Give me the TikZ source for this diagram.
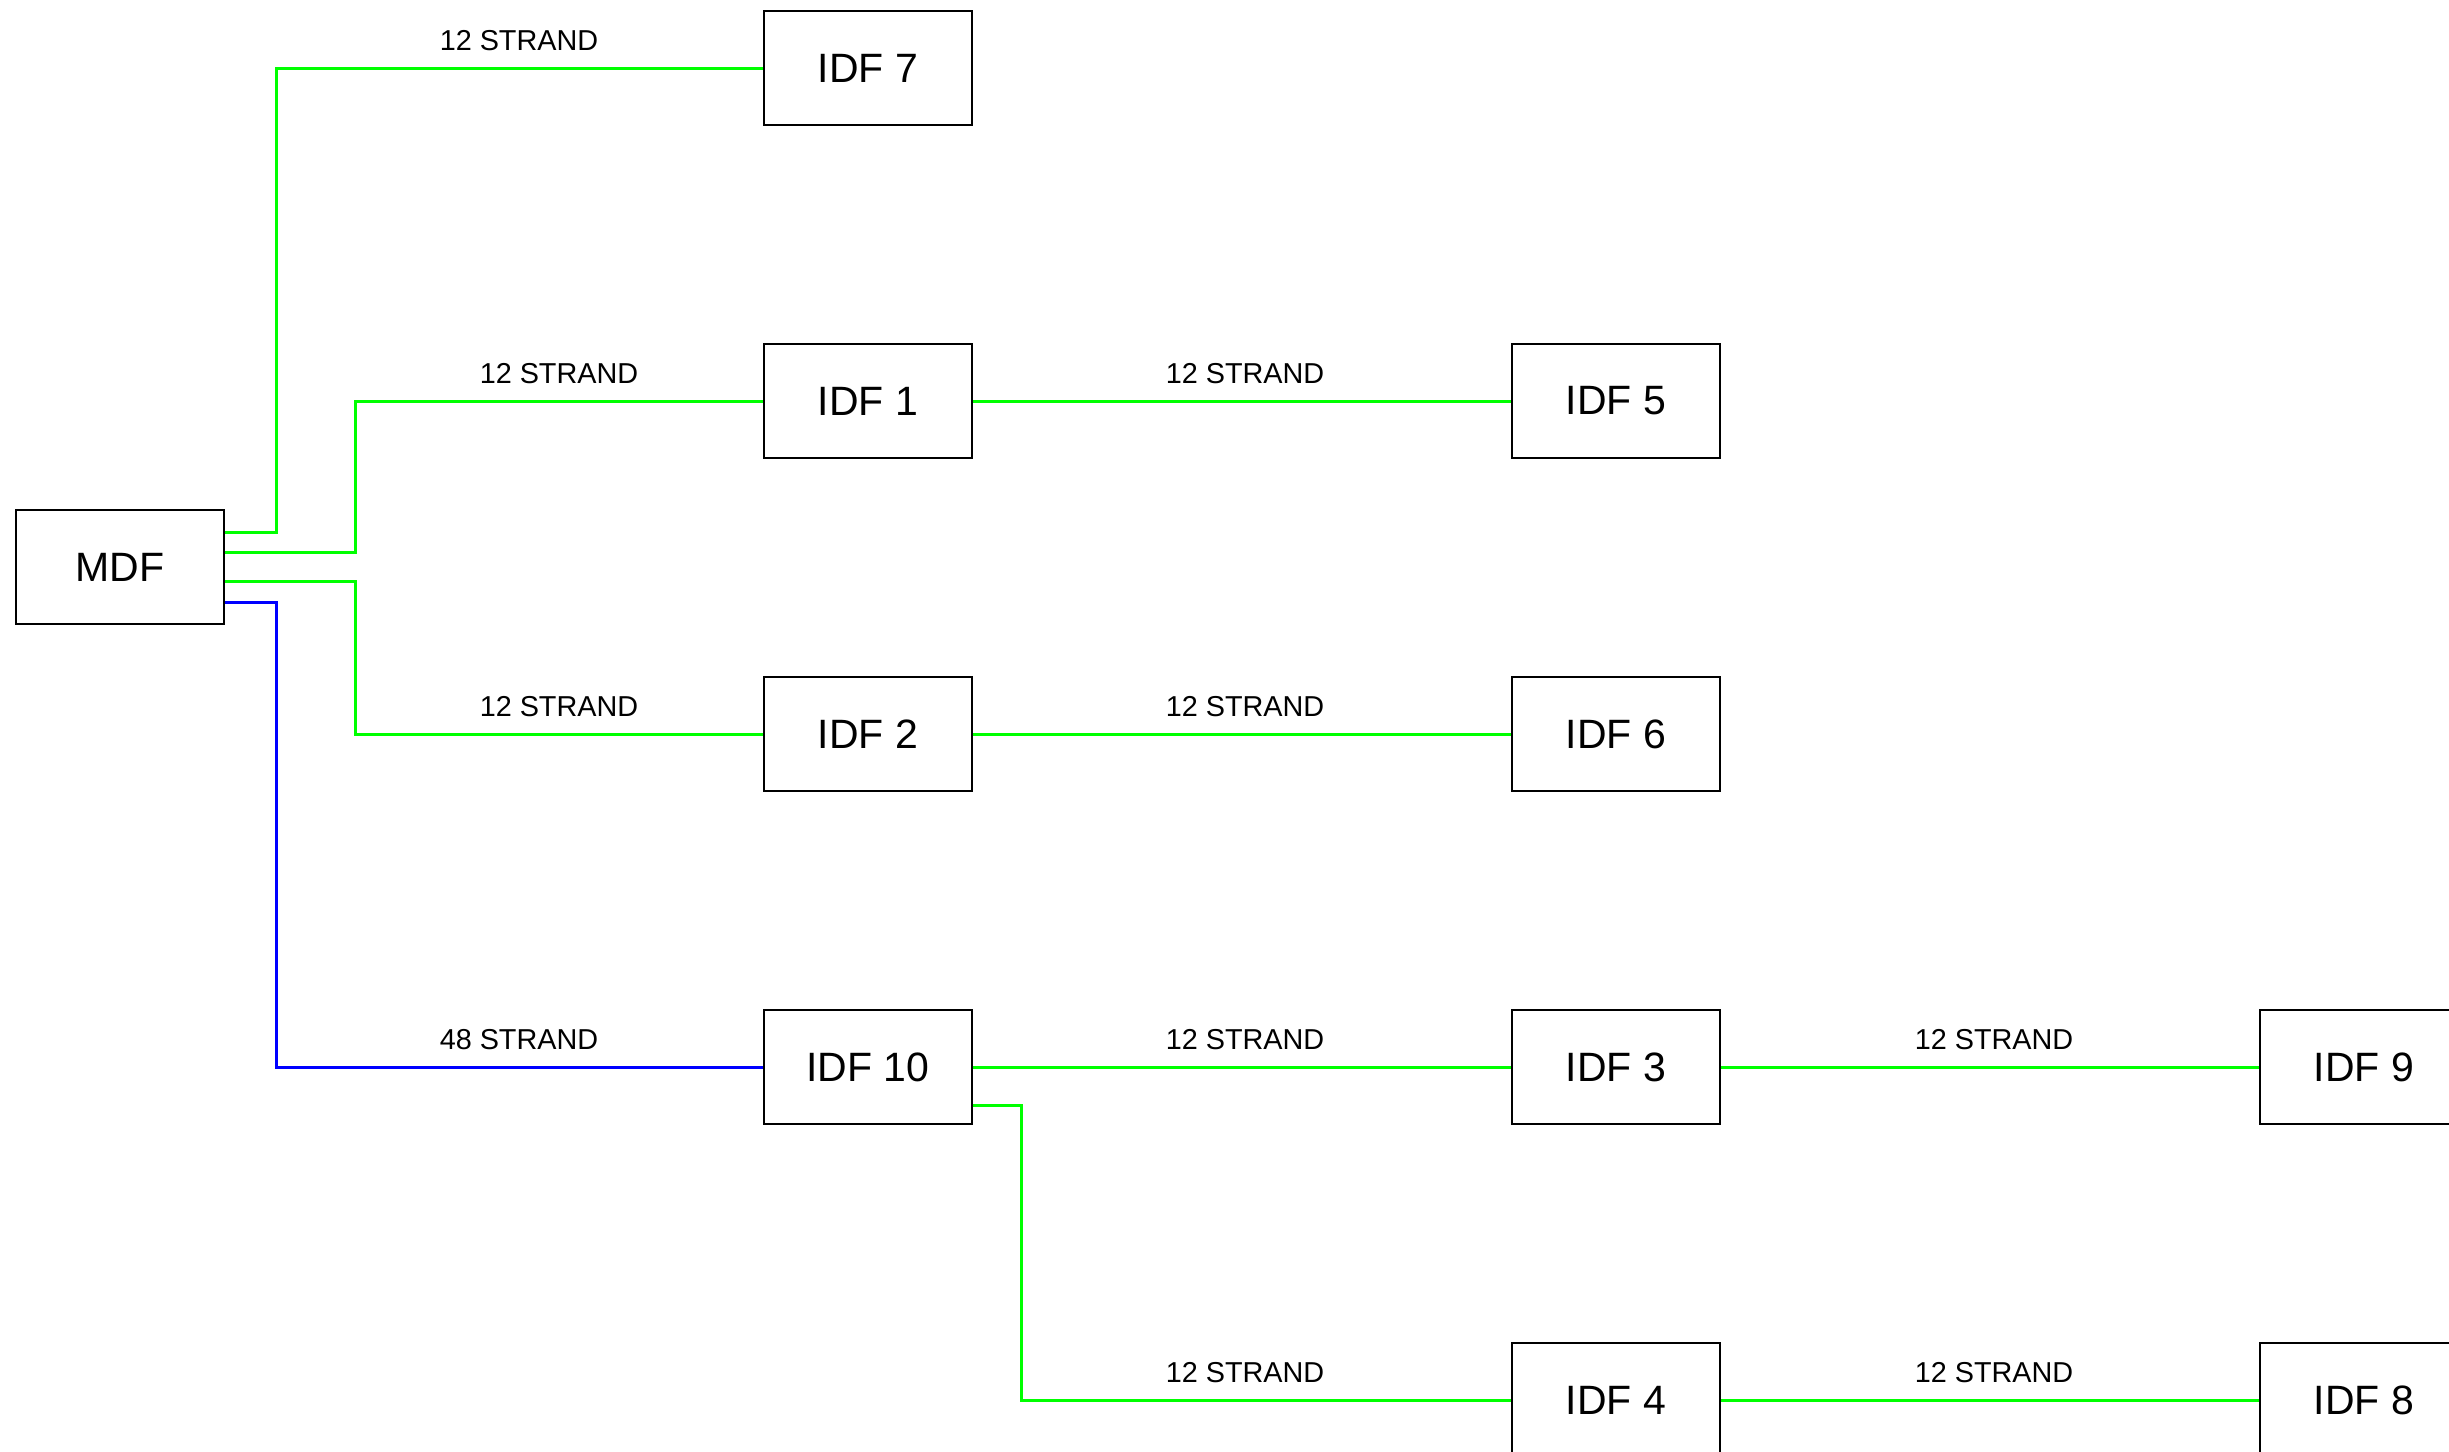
\documentclass[tikz,border=0pt]{standalone}
\usepackage{fontspec}
\setmainfont{Liberation Sans}
\definecolor{lgreen}{RGB}{0,255,0}
\definecolor{lblue}{RGB}{0,0,255}
\begin{document}
\begin{tikzpicture}[x=0.5pt,y=-0.5pt,
  box/.style={draw=black,line width=1.1pt,minimum width=104pt,minimum height=57pt,inner sep=0pt,font=\fontsize{20.5}{24}\selectfont},
  lbl/.style={anchor=base,inner sep=0pt,font=\fontsize{14.4}{17}\selectfont},
  gline/.style={draw=lgreen,line width=1.5pt},
  bline/.style={draw=lblue,line width=1.5pt}]
\useasboundingbox (0,0) rectangle (2449,1452);
\clip (0,0) rectangle (2449,1452);
\fill[white] (0,0) rectangle (2449,1452);
% nodes
\node[box] (mdf) at (120,567) {MDF};
\node[box] (idf7) at (868,68) {IDF 7};
\node[box] (idf1) at (868,401) {IDF 1};
\node[box] (idf5) at (1616,401) {IDF 5};
\node[box] (idf2) at (868,734) {IDF 2};
\node[box] (idf6) at (1616,734) {IDF 6};
\node[box] (idf10) at (868,1067) {IDF 10};
\node[box] (idf3) at (1616,1067) {IDF 3};
\node[box] (idf9) at (2364,1067) {IDF 9};
\node[box] (idf4) at (1616,1400) {IDF 4};
\node[box] (idf8) at (2364,1400) {IDF 8};
% connectors
\draw[gline] ([yshift=17.5pt]mdf.east) -- ++(51,0) |- (idf7.west);
\draw[gline] ([yshift=7.5pt]mdf.east) -- ++(130,0) |- (idf1.west);
\draw[gline] ([yshift=-7pt]mdf.east) -- ++(130,0) |- (idf2.west);
\draw[bline] ([yshift=-17.5pt]mdf.east) -- ++(51,0) |- (idf10.west);
\draw[gline] (idf1.east) -- (idf5.west);
\draw[gline] (idf2.east) -- (idf6.west);
\draw[gline] (idf10.east) -- (idf3.west);
\draw[gline] (idf3.east) -- (idf9.west);
\draw[gline] ([yshift=-19pt]idf10.east) -- ++(48,0) |- (idf4.west);
\draw[gline] (idf4.east) -- (idf8.west);
% labels
\node[lbl] (l7) at (519,50) {12 STRAND};
\node[lbl] (l1) at (559,383) {12 STRAND};
\node[lbl] (l2) at (559,716) {12 STRAND};
\node[lbl] (l10) at (519,1049) {48 STRAND};
\node[lbl] (l5) at (1245,383) {12 STRAND};
\node[lbl] (l6) at (1245,716) {12 STRAND};
\node[lbl] (l3) at (1245,1049) {12 STRAND};
\node[lbl] (l4) at (1245,1382) {12 STRAND};
\node[lbl] (l9) at (1994,1049) {12 STRAND};
\node[lbl] (l8) at (1994,1382) {12 STRAND};
\end{tikzpicture}
\end{document}
